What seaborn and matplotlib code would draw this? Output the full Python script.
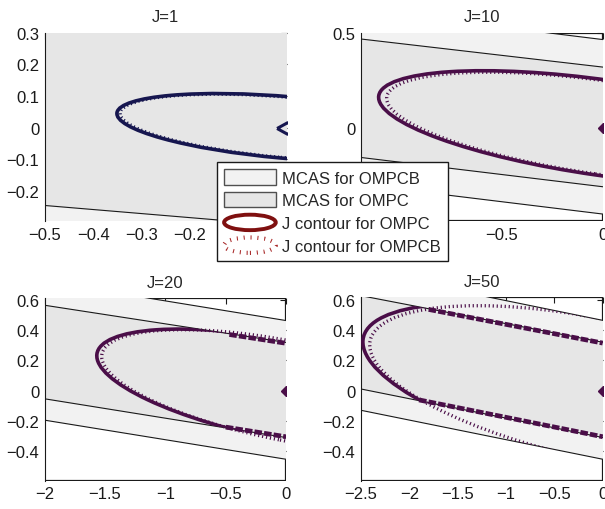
import matplotlib
matplotlib.use('Agg')
import matplotlib.pyplot as plt
import matplotlib.patches as mpatches
from matplotlib.legend_handler import HandlerPatch
import seaborn as sns

sns.set_theme(style='white')
plt.rcParams['font.family'] = ['Liberation Sans', 'DejaVu Sans']
plt.rcParams['font.size'] = 12

# panels
titles = ['J=1', 'J=10', 'J=20', 'J=50']
xlims = [(-0.5, 0.0), (-1.2, 0.0), (-2.0, 0.0), (-2.5, 0.0)]
ylims = [(-0.295, 0.3), (-0.49, 0.5), (-0.595, 0.61), (-0.595, 0.615)]
# ticks hidden behind the legend are left out
xticks = [[-0.5, -0.4, -0.3, -0.2], [-0.5, 0],
          [-2, -1.5, -1, -0.5, 0], [-2.5, -2, -1.5, -1, -0.5, 0]]
yticks = [[-0.2, -0.1, 0, 0.1, 0.2, 0.3], [0, 0.5],
          [-0.4, -0.2, 0, 0.2, 0.4, 0.6], [-0.4, -0.2, 0, 0.2, 0.4, 0.6]]

# MCAS polygons (same sets in every panel)
ompcb_x = [-3.0, 0.5, 0.5, -3.0]
ompcb_y = [0.853, 0.398, -0.518, -0.066]
ompc_x = [-3.0, 0.5, 0.5, -3.0]
ompc_y = [0.687, 0.257, -0.374, 0.074]

# J contours, ellipses around the origin: (width, height, angle)
ompc_ell = [(0.708, 0.194, -7.75), (2.249, 0.501, -8.59),
            (3.172, 0.663, -8.74), (5.004, 0.947, -7.63)]
ompcb_ell = [(0.695, 0.19, -7.9), (2.168, 0.49, -8.6),
             (3.09, 0.66, -8.8), (4.858, 0.938, -7.37)]

# parts of the OMPC contour lying on the constraints
j20_up_x = [-0.47, 0.0]
j20_up_y = [0.371, 0.313]
j20_lo_x = [-0.5, 0.0]
j20_lo_y = [-0.241, -0.305]
j50_up_x = [-1.8, 0.0]
j50_up_y = [0.535, 0.313]
j50_lo_x = [-1.9, 0.0]
j50_lo_y = [-0.062, -0.305]
edges = [[], [], [(j20_up_x, j20_up_y), (j20_lo_x, j20_lo_y)],
         [(j50_up_x, j50_up_y), (j50_lo_x, j50_lo_y)]]

line_cols = ['#16164f', '#4a0e48', '#4a0e48', '#4a0e48']
light = '#f2f2f2'
dark = '#e6e6e6'

rects = [[0.0739, 0.5647, 0.4005, 0.3696], [0.5967, 0.5647, 0.3995, 0.3696],
         [0.0739, 0.0555, 0.399, 0.3576], [0.5967, 0.0555, 0.3995, 0.3596]]


def fmt(v):
    return ('%g' % v).replace('-', '\u2212')


fig = plt.figure(figsize=(6.05, 5.10), dpi=100)

for i in range(4):
    ax = fig.add_axes(rects[i])
    ax.set_facecolor('white')
    col = line_cols[i]

    pb = mpatches.Polygon(list(zip(ompcb_x, ompcb_y)), closed=True,
                          fc=light, ec='k', lw=0.8, zorder=1)
    ax.add_patch(pb)
    pc = mpatches.Polygon(list(zip(ompc_x, ompc_y)), closed=True,
                          fc=dark, ec='k', lw=0.8, zorder=1.1)
    ax.add_patch(pc)

    w, h, a = ompc_ell[i]
    e1 = mpatches.Ellipse((0, 0), w, h, angle=a, fill=False, ec=col,
                          lw=2.6, zorder=3)
    ax.add_patch(e1)
    e1.set_clip_path(pc)

    w, h, a = ompcb_ell[i]
    e2 = mpatches.Ellipse((0, 0), w, h, angle=a, fill=False, ec=col,
                          lw=2.4, ls=(0, (0.35, 0.85)), zorder=3.1)
    ax.add_patch(e2)
    e2.set_clip_path(pb)

    for xs, ys in edges[i]:
        n0 = len(ax.lines)
        sns.lineplot(x=xs, y=ys, ax=ax, color=col, linewidth=3.4,
                     estimator=None, sort=False)
        for ln in ax.lines[n0:]:
            ln.set_linestyle((0, (1.6, 0.45)))
            ln.set_zorder(3)

    # level set around the origin
    if i == 0:
        ax.plot([0], [0], marker=[(-1, 0), (0, 0.55), (1, 0), (0, -0.55), (-1, 0)],
                ms=15, mfc='none', mec=col, mew=2.2, zorder=3.2)
    else:
        ax.plot([0], [0], marker='D', ms=5, mfc=col, mec=col, zorder=3.2)

    ax.set_xlim(xlims[i])
    ax.set_ylim(ylims[i])
    ax.set_xticks(xticks[i], [fmt(v) for v in xticks[i]])
    ax.set_yticks(yticks[i], [fmt(v) for v in yticks[i]])
    ax.set_xlabel('')
    ax.set_ylabel('')
    ax.set_axisbelow(True)
    ax.tick_params(direction='in', length=4, width=0.8, colors='k',
                   labelsize=12, top=True, right=True, pad=4)
    for s in ['top', 'right', 'bottom']:
        ax.spines[s].set_visible(False)
    ax.spines['left'].set_color('k')
    ax.spines['left'].set_linewidth(0.8)
    for xs, ys in [([0, 1], [1, 1]), ([1, 1], [0, 1]), ([0, 1], [0, 0])]:
        ax.plot(xs, ys, transform=ax.transAxes, color='k', lw=1.6,
                zorder=0.6, clip_on=True)
    ax.set_title(titles[i], fontsize=12, pad=8)


def make_ellipse(legend, orig_handle, xdescent, ydescent, width, height, fontsize):
    return mpatches.Ellipse((width / 2 - xdescent, height / 2 - ydescent), width, height)


h1 = mpatches.Patch(fc=light, ec='#505050', lw=1)
h2 = mpatches.Patch(fc=dark, ec='#505050', lw=1)
h3 = mpatches.Ellipse((0, 0), 1, 1, fill=False, ec='#7f1010', lw=2.8)
h4 = mpatches.Ellipse((0, 0), 1, 1, fill=False, ec='#a82828', lw=3.0, ls=(0, (0.25, 1.4)))
labels = ['MCAS for OMPCB', 'MCAS for OMPC', 'J contour for OMPC', 'J contour for OMPCB']
leg = fig.legend([h1, h2, h3, h4], labels, loc='upper left',
                 bbox_to_anchor=(0.358, 0.681), bbox_transform=fig.transFigure,
                 frameon=True, fancybox=False, edgecolor='k', framealpha=1,
                 borderpad=0.45, labelspacing=0.38, handlelength=3.1,
                 handleheight=1.05, handletextpad=0.35, borderaxespad=0,
                 fontsize=12,
                 handler_map={h3: HandlerPatch(patch_func=make_ellipse),
                              h4: HandlerPatch(patch_func=make_ellipse)})
leg.get_frame().set_linewidth(1.0)

plt.savefig('out.png', dpi=100)
